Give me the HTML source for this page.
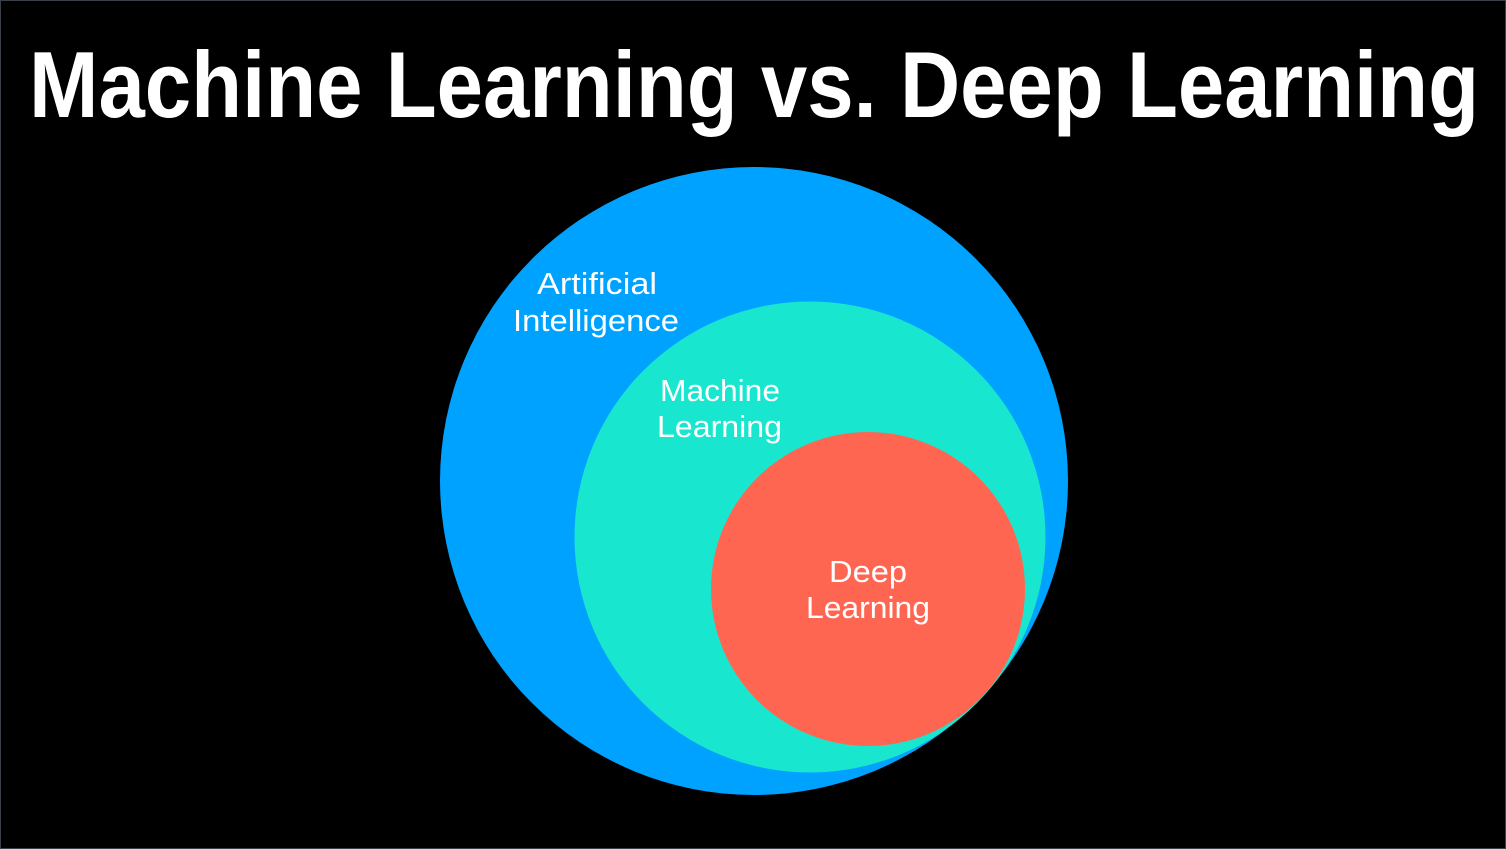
<!DOCTYPE html>
<html><head><meta charset="utf-8"><style>
html,body{margin:0;padding:0;background:#000;}
svg{display:block;}
</style></head><body>
<svg width="1506" height="849" viewBox="0 0 1506 849" xmlns="http://www.w3.org/2000/svg">
<rect x="0.5" y="0.5" width="1505" height="848" fill="#000" stroke="#3a404a" stroke-width="1"/>
<text x="754" y="117" text-anchor="middle" font-family="Liberation Sans, sans-serif" font-weight="bold" font-size="94" fill="#fff" textLength="1450" lengthAdjust="spacingAndGlyphs">Machine Learning vs. Deep Learning</text>
<circle cx="754" cy="481" r="314" fill="#00a2ff"/>
<circle cx="810" cy="537" r="235.5" fill="#19e6cf"/>
<circle cx="868" cy="589" r="157" fill="#ff6652"/>
<g font-family="Liberation Sans, sans-serif" font-size="31" fill="#fff" text-anchor="middle" lengthAdjust="spacingAndGlyphs">
<text x="597" y="294" textLength="120" lengthAdjust="spacingAndGlyphs">Artificial</text>
<text x="596" y="331" textLength="166" lengthAdjust="spacingAndGlyphs">Intelligence</text>
<text x="720" y="401" textLength="120" lengthAdjust="spacingAndGlyphs">Machine</text>
<text x="719.5" y="437" textLength="125" lengthAdjust="spacingAndGlyphs">Learning</text>
<text x="868" y="582" textLength="78" lengthAdjust="spacingAndGlyphs">Deep</text>
<text x="868" y="618" textLength="124" lengthAdjust="spacingAndGlyphs">Learning</text>
</g>
</svg>
</body></html>
